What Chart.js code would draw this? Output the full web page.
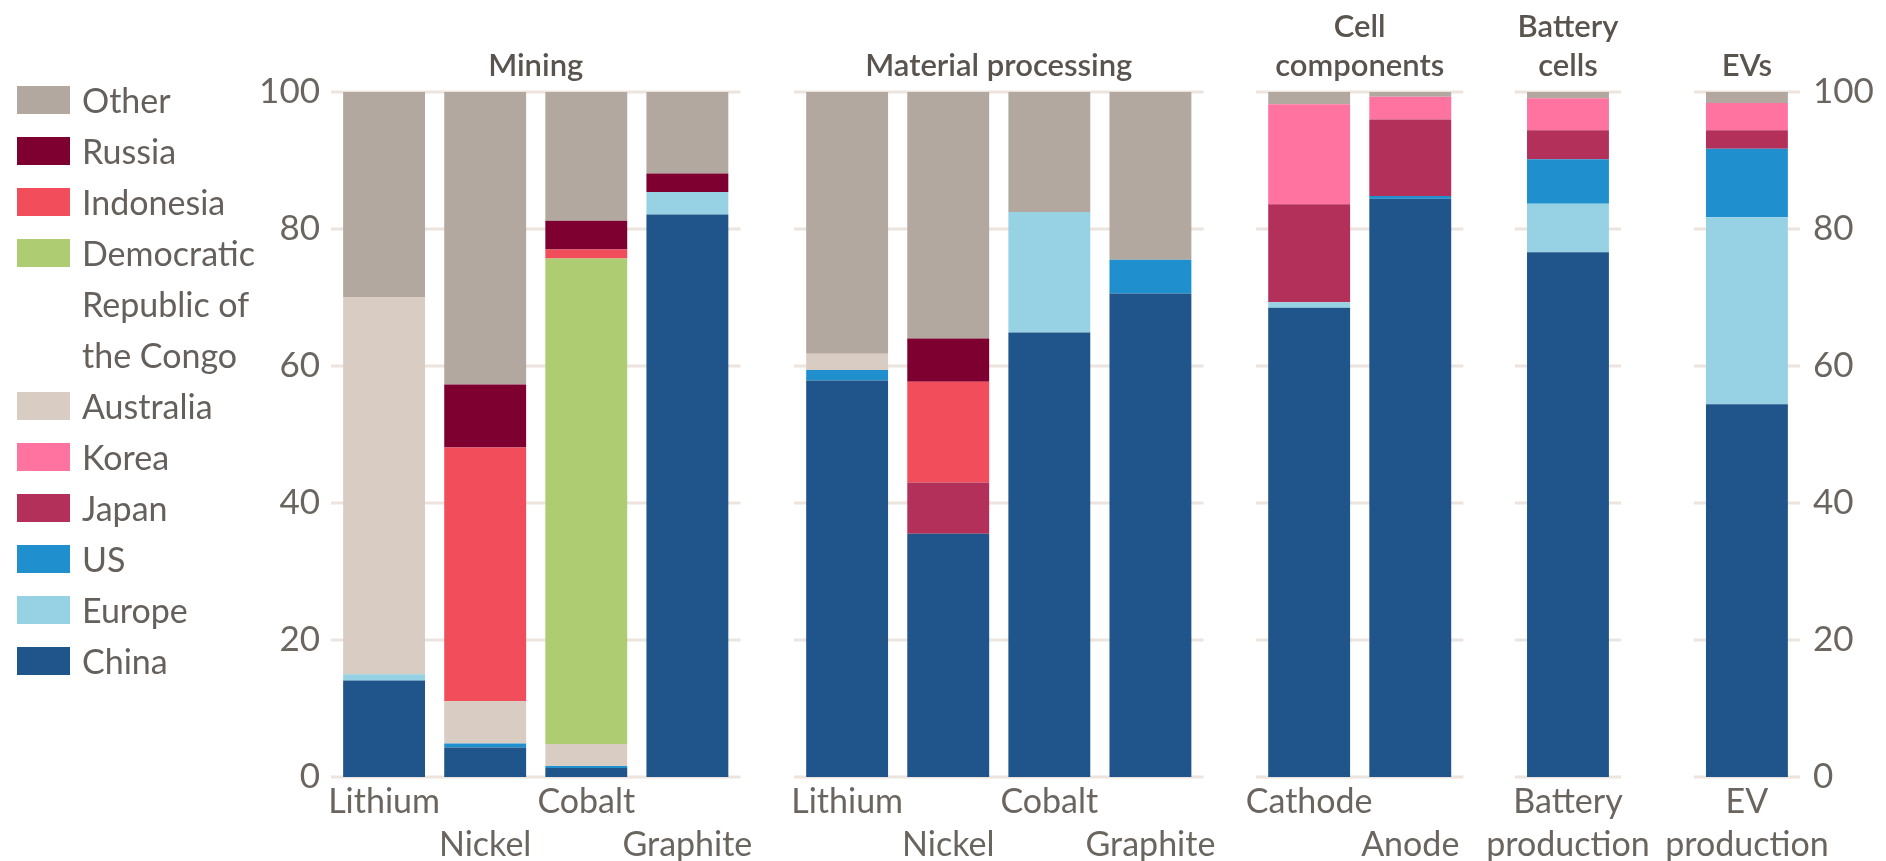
<!DOCTYPE html>
<html>
<head>
<meta charset="utf-8">
<script src="https://cdn.jsdelivr.net/npm/chart.js@4"></script>
<style>
html,body{margin:0;padding:0;background:#fff;}
#wrap{position:relative;width:1886px;height:861px;overflow:hidden;}
#chart{position:absolute;left:0;top:0;}
#legend{position:absolute;left:17px;top:74px;margin:0;padding:0;list-style:none;
  font-family:Lato,"Noto Sans",sans-serif;font-size:34px;line-height:51px;color:#66605c;z-index:2;}
#legend li{display:flex;align-items:flex-start;margin:0;padding:0;}
#legend .box{width:53px;height:28px;margin-top:12px;margin-right:12px;flex:none;}
#legend .txt{max-width:190px;}
</style>
</head>
<body>
<div id="wrap">
  <canvas id="chart" width="1886" height="861"></canvas>
  <ul id="legend"></ul>
</div>
<script>
// ---- data ----
const CATEGORIES = ['Lithium','Nickel','Cobalt','Graphite','Lithium','Nickel','Cobalt','Graphite','Cathode','Anode','Battery production','EV production'];
const GROUPS = ['Mining','Material processing','Cell components','Battery cells','EVs'];
const GROUP_SIZES = [4, 4, 2, 1, 1];
const COUNTRIES = ['China','Europe','US','Japan','Korea','Australia','Democratic Republic of the Congo','Indonesia','Russia','Other'];

const china     = [14.1, 4.3, 1.3, 82.1, 57.9, 35.5, 64.9, 70.6, 68.5, 84.4, 76.6, 54.4];
const europe    = [0.9, 0, 0, 3.3, 0, 0, 17.6, 0, 0.8, 0, 7.1, 27.3];
const us        = [0, 0.6, 0.3, 0, 1.5, 0, 0, 4.9, 0, 0.4, 6.5, 10.0];
const japan     = [0, 0, 0, 0, 0, 7.5, 0, 0, 14.3, 11.2, 4.2, 2.7];
const korea     = [0, 0, 0, 0, 0, 0, 0, 0, 14.6, 3.3, 4.7, 4.0];
const australia = [55.0, 6.2, 3.2, 0, 2.4, 0, 0, 0, 0, 0, 0, 0];
const drc       = [0, 0, 70.9, 0, 0, 0, 0, 0, 0, 0, 0, 0];
const indonesia = [0, 37.0, 1.3, 0, 0, 14.7, 0, 0, 0, 0, 0, 0];
const russia    = [0, 9.2, 4.2, 2.7, 0, 6.3, 0, 0, 0, 0, 0, 0];
const other     = [30.0, 42.7, 18.8, 11.9, 38.2, 36.0, 17.5, 24.5, 1.8, 0.7, 0.9, 1.6];

const Y_TICKS = [0, 20, 40, 60, 80, 100];
const X_TICK_LABELS = [['Lithium'],['','Nickel'],['Cobalt'],['','Graphite'],
                       ['Lithium'],['','Nickel'],['Cobalt'],['','Graphite'],
                       ['Cathode'],['','Anode'],['Battery','production'],['EV','production']];
const GROUP_TITLES = [['Mining'],['Material processing'],['Cell','components'],['Battery','cells'],['EVs']];

// ---- styles / layout ----
const SERIES = [china, europe, us, japan, korea, australia, drc, indonesia, russia, other];
const COLORS = ['#1f558a','#96d2e4','#1f8fce','#b2305a','#ff73a0','#d9ccc3','#aecc72','#f24d5a','#7e0030','#b2a8a0'];
const GROUP_GAPS = [0.58, 0.57, 0.56, 0.77]; // extra space between groups, in bar slots
const EDGE = 0.525;                          // grid overhang beyond outer bars, in slots
const GRID_COLOR = '#ece4dd';
const TICK_COLOR = '#6b6560';
const TITLE_COLOR = '#5a544f';

// positions of bars along the linear index axis
const pos = [];
const groupRange = [];
let p = 0;
GROUP_SIZES.forEach((n, g) => {
  const start = p;
  for (let i = 0; i < n; i++) { pos.push(p); p += 1; }
  groupRange.push([start, p - 1]);
  p += (GROUP_GAPS[g] || 0);
});
const groupCenters = groupRange.map(r => (r[0] + r[1]) / 2);
const xMin = pos[0] - EDGE;
const xMax = pos[pos.length - 1] + EDGE;

const datasets = COUNTRIES.map((name, i) => ({
  label: name,
  data: SERIES[i].map((v, j) => ({x: pos[j], y: v})),
  backgroundColor: COLORS[i],
  borderWidth: 0,
  barPercentage: 0.81,
  categoryPercentage: 1.0
}));

const groupGrid = {
  id: 'groupGrid',
  beforeDatasetsDraw(chart) {
    const {ctx, scales} = chart;
    const xs = scales.x, ys = scales.y;
    ctx.save();
    ctx.strokeStyle = GRID_COLOR;
    ctx.lineWidth = 3;
    groupRange.forEach(([a, b]) => {
      const x0 = xs.getPixelForValue(a - EDGE);
      const x1 = xs.getPixelForValue(b + EDGE);
      Y_TICKS.forEach(t => {
        const y = ys.getPixelForValue(t);
        ctx.beginPath();
        ctx.moveTo(x0, y);
        ctx.lineTo(x1, y);
        ctx.stroke();
      });
    });
    ctx.restore();
  }
};

const fontFam = 'Lato, "Noto Sans", sans-serif';

const chart = new Chart(document.getElementById('chart'), {
  type: 'bar',
  data: { datasets },
  plugins: [groupGrid],
  options: {
    responsive: false,
    animation: false,
    layout: { padding: { left: 260, right: 0, top: 0, bottom: 0 } },
    plugins: { legend: { display: false }, tooltip: { enabled: false } },
    scales: {
      x: {
        type: 'linear', stacked: true, min: xMin, max: xMax, position: 'bottom', offset: false,
        grid: { display: false, drawTicks: false, offset: false }, border: { display: false },
        afterBuildTicks: s => { s.ticks = pos.map(v => ({value: v})); },
        afterFit: s => { s.height = 84; },
        ticks: {
          autoSkip: false, maxRotation: 0, minRotation: 0, padding: 4,
          color: TICK_COLOR, font: { family: fontFam, size: 34, lineHeight: 1.265 },
          callback: (v, i) => X_TICK_LABELS[i]
        }
      },
      x2: {
        type: 'linear', min: xMin, max: xMax, position: 'top', offset: false,
        grid: { display: false, drawTicks: false, offset: false }, border: { display: false },
        afterBuildTicks: s => { s.ticks = groupCenters.map(v => ({value: v})); },
        afterFit: s => { s.height = 92; },
        ticks: {
          autoSkip: false, maxRotation: 0, minRotation: 0, padding: 7,
          color: TITLE_COLOR, font: { family: fontFam, size: 31, weight: '600', lineHeight: 1.25 },
          callback: (v, i) => GROUP_TITLES[i]
        }
      },
      y: {
        type: 'linear', stacked: true, min: 0, max: 100, position: 'left',
        grid: { display: false, drawTicks: false }, border: { display: false },
        afterBuildTicks: s => { s.ticks = Y_TICKS.map(v => ({value: v})); },
        afterFit: s => { s.width = 71; },
        ticks: { padding: 11, color: TICK_COLOR, font: { family: fontFam, size: 35 } }
      },
      y2: {
        type: 'linear', min: 0, max: 100, position: 'right',
        grid: { display: false, drawTicks: false }, border: { display: false },
        afterBuildTicks: s => { s.ticks = Y_TICKS.map(v => ({value: v})); },
        afterFit: s => { s.width = 86; },
        ticks: { padding: 13, color: TICK_COLOR, font: { family: fontFam, size: 35 } }
      }
    }
  }
});

// HTML legend built from the chart's datasets (top of stack first)
const ul = document.getElementById('legend');
chart.data.datasets.slice().reverse().forEach(ds => {
  const li = document.createElement('li');
  const box = document.createElement('span');
  box.className = 'box';
  box.style.background = ds.backgroundColor;
  const txt = document.createElement('span');
  txt.className = 'txt';
  txt.textContent = ds.label;
  li.appendChild(box); li.appendChild(txt);
  ul.appendChild(li);
});
</script>
</body>
</html>
